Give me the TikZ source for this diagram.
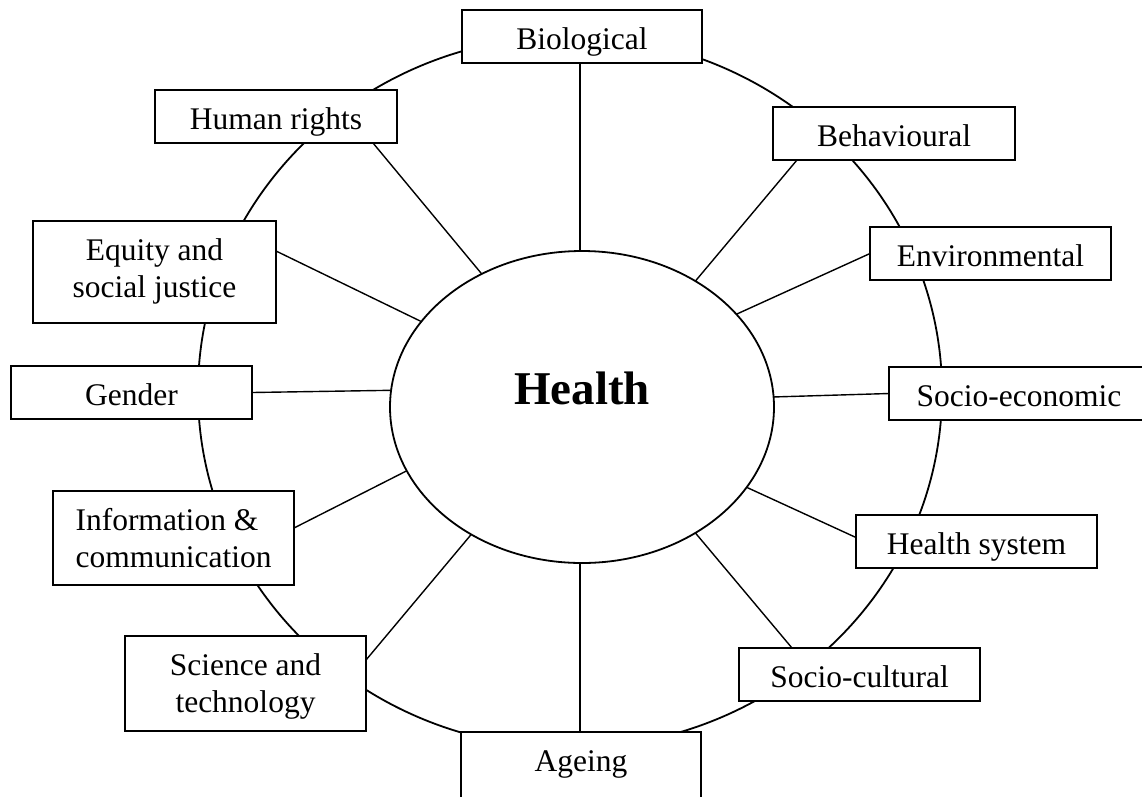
\documentclass[tikz,border=0pt]{standalone}
\usepackage{fontspec}
\setmainfont{Liberation Serif}
\usetikzlibrary{shapes.geometric}

\begin{document}
\begin{tikzpicture}[x=1pt, y=-1pt]
    \tikzstyle{factor}=[draw, fill=white, line width=1.8pt, anchor=north west, inner sep=0pt
    , outer sep=0pt, minimum width=241pt, text height=39.5pt, text depth=13.5pt
    , align=center, font=\fontsize{31.5}{36.5}\selectfont]
    \tikzstyle{twoline}=[text height=76pt]
    \tikzstyle{link}=[line width=1.4pt]
    \useasboundingbox (0,0) rectangle (1142,796);
    \clip (0,0) rectangle (1142,796);

    % outer ring and centre
    \node[ellipse, draw, line width=1.8pt, minimum width=744pt, minimum height=712pt
    , inner sep=0pt, outer sep=0pt] (ring) at (570,392) {};
    \node[ellipse, draw, fill=white, line width=1.8pt, minimum width=384pt, minimum height=312pt
    , inner sep=0pt, outer sep=0pt, text height=33pt, text depth=39pt
    , font=\fontsize{47}{50}\selectfont\bfseries] (health) at (582,407) {Health};

    % factors
    \node[factor, minimum width=240pt] (bio) at (462,10) {Biological};
    \node[factor, minimum width=242pt] (hum) at (155,90) {Human rights};
    \node[factor, minimum width=242pt] (beh) at (773,107) {Behavioural};
    \node[factor] (env) at (870,227) {Environmental};
    \node[factor, twoline, minimum width=243pt, text depth=26pt] (equ) at (33,221) {Equity and\\social justice};
    \node[factor] (gen) at (11,366) {Gender};
    \node[factor, minimum width=260pt] (soe) at (889,367) {Socio-economic};
    \node[factor, twoline, align=left, text depth=18pt] (inf) at (53,491) {Information \&\\communication};
    \node[factor] (hsy) at (856,515) {Health system};
    \node[factor, twoline, text depth=19pt] (sci) at (125,636) {Science and\\technology};
    \node[factor] (soc) at (739,648) {Socio-cultural};
    \node[factor, minimum width=240pt, text depth=40pt] (age) at (461,732) {Ageing};

    % links
    \draw[link] ([xshift=-2pt]bio.south) -- ([xshift=-2pt]health.north);
    \draw[link] ([xshift=-24pt]hum.south east) -- (health.127);
    \draw[link] ([xshift=24pt]beh.south west) -- (health.48.6);
    \draw[link] (env.west) -- (health.31);
    \draw[link] ([yshift=-30pt]equ.north east) -- (health.152.7);
    \draw[link] (gen.east) -- (health.175.5);
    \draw[link] (health.3.9) -- (soe.west);
    \draw[link] ([yshift=10pt]inf.east) -- (health.200.7);
    \draw[link] (health.334.7) -- ([yshift=4pt]hsy.west);
    \draw[link] ([yshift=-24pt]sci.north east) -- (health.229.5);
    \draw[link] (health.312.4) -- ([xshift=53pt]soc.north west);
    \draw[link] ([xshift=-2pt]health.south) -- ([xshift=-1pt]age.north);

\end{tikzpicture}
\end{document}
